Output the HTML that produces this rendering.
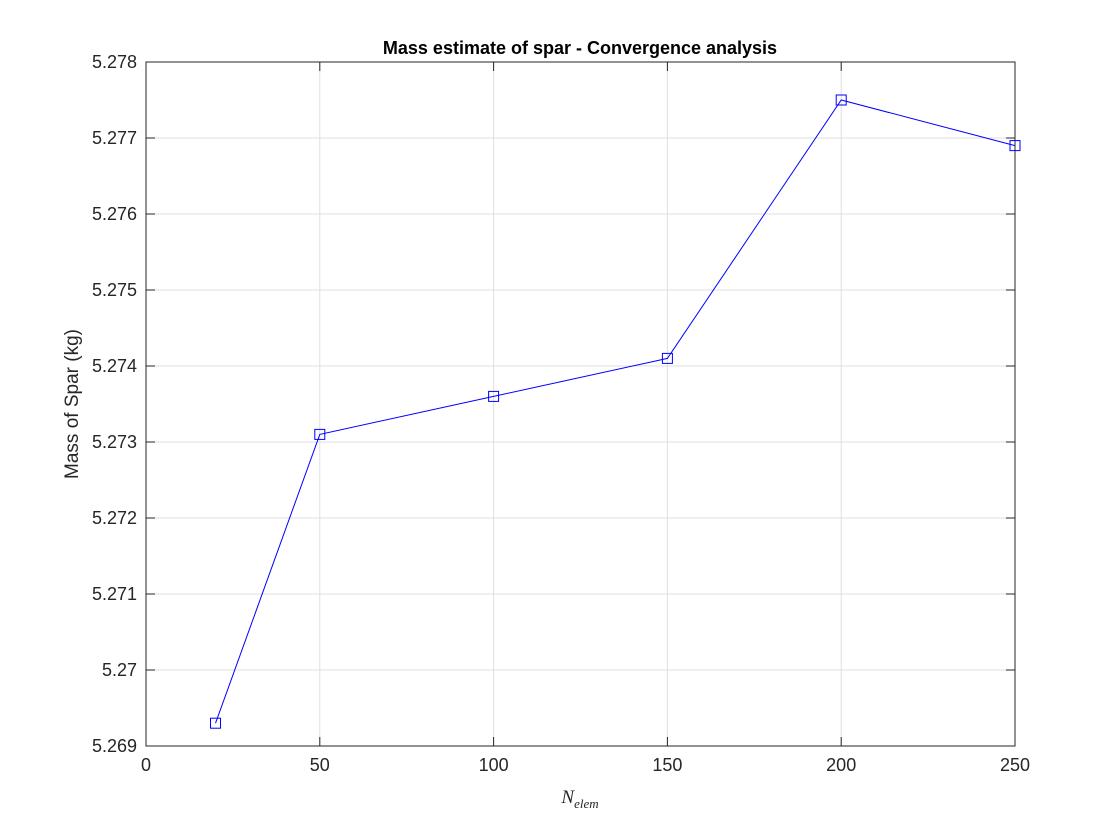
<!DOCTYPE html>
<html><head><meta charset="utf-8"><style>
body{margin:0;background:#fff;}
svg{display:block;font-family:"Liberation Sans",Helvetica,sans-serif;}
</style></head><body>
<svg id="chart" width="1120" height="840" viewBox="0 0 1120 840">
<rect width="1120" height="840" fill="#fff"/>
<g id="grid"></g>
<g id="axes"></g>
<g id="series"></g>
<text x="580" y="54" text-anchor="middle" font-size="18" font-weight="bold" fill="#000">Mass estimate of spar - Convergence analysis</text>
<text x="78" y="404" text-anchor="middle" font-size="19" fill="#262626" transform="rotate(-90 78 404)">Mass of Spar (kg)</text>
<text x="580" y="803" text-anchor="middle" font-size="19" fill="#262626" font-family="Liberation Serif,serif" font-style="italic">N<tspan font-size="13" dy="5">elem</tspan></text>
</svg>
<script>
const xValues=[20,50,100,150,200,250];
const yValues=[5.2693,5.2731,5.2736,5.2741,5.2775,5.2769];
const xTicks=[0,50,100,150,200,250];
const yTicks=[5.269,5.270,5.271,5.272,5.273,5.274,5.275,5.276,5.277,5.278];
const yTickLabels=["5.269","5.27","5.271","5.272","5.273","5.274","5.275","5.276","5.277","5.278"];
const L=146,R=1015,T=62,B=746,xMin=0,xMax=250,yMin=5.269,yMax=5.278;
const sx=v=>L+(v-xMin)/(xMax-xMin)*(R-L);
const sy=v=>B-(v-yMin)/(yMax-yMin)*(B-T);
const NS="http://www.w3.org/2000/svg";
function mk(tag,attrs,parent){const e=document.createElementNS(NS,tag);for(const k in attrs)e.setAttribute(k,attrs[k]);parent.appendChild(e);return e;}
const grid=document.getElementById('grid'),axes=document.getElementById('axes'),series=document.getElementById('series');
xTicks.forEach(t=>{const x=sx(t);
 const g=mk('line',{x1:x,x2:x,y1:T,y2:B,stroke:'#dfdfdf','stroke-width':1},grid);
 
 const tk=mk('line',{x1:x,x2:x,y1:B,y2:B-9,stroke:'#262626'},axes);
 
 const tk2=mk('line',{x1:x,x2:x,y1:T,y2:T+9,stroke:'#262626'},axes);
 
 const tx=mk('text',{x:x,y:B+25,'text-anchor':'middle','font-size':18,fill:'#262626'},axes);tx.textContent=t;
 
});
yTicks.forEach((t,i)=>{const y=sy(t);
 const g=mk('line',{x1:L,x2:R,y1:y,y2:y,stroke:'#dfdfdf','stroke-width':1},grid);
 
 const tk=mk('line',{x1:L,x2:L+9,y1:y,y2:y,stroke:'#262626'},axes);
 
 const tk2=mk('line',{x1:R,x2:R-9,y1:y,y2:y,stroke:'#262626'},axes);
 
 const tx=mk('text',{x:L-9,y:y+6,'text-anchor':'end','font-size':18,fill:'#262626'},axes);tx.textContent=yTickLabels[i];
 
});
const box=mk('rect',{x:L,y:T,width:R-L,height:B-T,fill:'none',stroke:'#262626','stroke-width':1},axes);

const pts=xValues.map((v,i)=>sx(v)+','+sy(yValues[i])).join(' ');
const pl=mk('polyline',{points:pts,fill:'none',stroke:'#0000ff','stroke-width':1},series);

xValues.forEach((v,i)=>{
 const m=mk('rect',{x:sx(v)-5,y:sy(yValues[i])-5,width:10,height:10,fill:'none',stroke:'#0000ff','stroke-width':1},series);
 
});
</script>
</body></html>
